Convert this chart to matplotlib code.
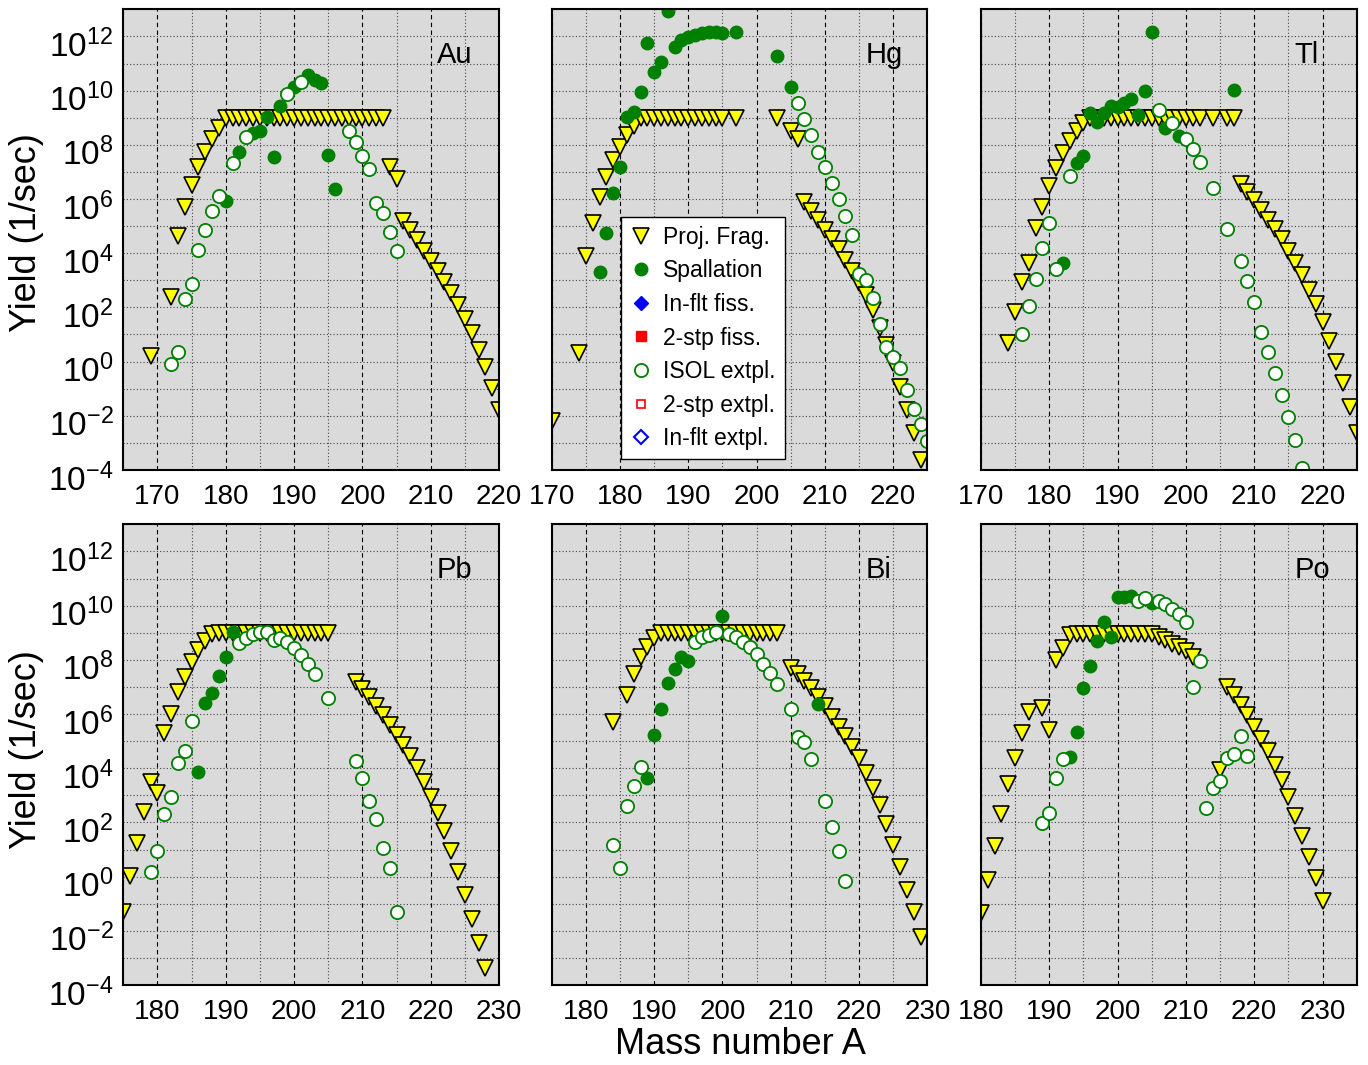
import numpy as np
import matplotlib
matplotlib.use("Agg")
import matplotlib.pyplot as plt
from matplotlib.ticker import MultipleLocator, LogLocator, FuncFormatter, NullLocator
from matplotlib.transforms import ScaledTranslation

# ---- data (mass number A, log10 of yield in 1/sec) ----
# Au
au_pf_a = [169, 172, 173, 174, 175, 176, 177, 178, 179,
           180, 181, 182, 183, 184, 185, 186, 187, 188, 189, 190, 191,
           192, 193, 194, 195, 196, 197, 198, 199, 200, 201, 202, 203,
           204, 205, 206, 207, 208, 209, 210, 211, 212, 213, 214, 215,
           216, 217, 218, 219, 220]
au_pf_y = [0.21, 2.4, 4.63, 5.69, 6.5, 7.19, 7.72, 8.21, 8.61,
           9.0, 9.0, 9.0, 9.0, 9.0, 9.0, 9.0, 9.0, 9.0, 9.0, 9.0, 9.0,
           9.0, 9.0, 9.0, 9.0, 9.0, 9.0, 9.0, 9.0, 9.0, 9.0, 9.0, 9.0,
           7.19, 6.74, 5.2, 4.86, 4.49, 4.09, 3.72, 3.36, 2.95, 2.52, 2.09, 1.56,
           1.04, 0.43, -0.21, -0.99, -1.79]
au_sp_a = [180, 182, 184, 185, 186, 187, 188, 190, 192, 193, 194, 195, 196]
au_sp_y = [5.94, 7.75, 8.42, 8.52, 9.04, 7.56, 9.43, 10.15, 10.56, 10.39, 10.27, 7.62, 6.36]
au_is_a = [172, 173, 174, 175, 176, 177, 178, 179, 181, 183, 189, 191,
           198, 199, 200, 201, 202, 203, 204, 205]
au_is_y = [-0.09, 0.37, 2.31, 2.86, 4.12, 4.86, 5.56, 6.11, 7.34, 8.3, 9.87, 10.32,
           8.51, 8.12, 7.6, 7.09, 5.86, 5.5, 4.79, 4.08]

# Hg
hg_pf_a = [170, 174, 175, 176, 177, 178, 179, 180, 181, 182,
           183, 184, 185, 186, 187, 188, 189, 190, 191, 192, 193, 194, 195, 197,
           203, 205, 206, 207, 208, 209, 210, 211, 212, 213, 214, 215, 216,
           217, 218, 219, 220, 221, 222, 223, 224]
hg_pf_y = [-2.18, 0.33, 3.9, 5.13, 6.06, 6.82, 7.44, 7.93, 8.36, 8.69,
           8.98, 8.98, 8.98, 8.98, 8.98, 8.98, 8.98, 8.98, 8.98, 8.98, 8.98, 8.98, 8.98, 8.98,
           8.98, 8.52, 8.2, 5.9, 5.57, 5.22, 4.86, 4.51, 4.14, 3.75, 3.36, 2.89, 2.46,
           1.9, 1.23, 0.61, -0.06, -0.92, -1.79, -2.65, -3.63]
hg_sp_a = [177, 178, 179, 180, 181, 182, 183, 184, 185, 186, 187, 188, 189,
           190, 191, 192, 193, 194, 195, 197, 203, 205]
hg_sp_y = [3.32, 4.73, 6.21, 7.19, 9.04, 9.22, 9.96, 11.74, 10.7, 11.07, 12.95, 11.62, 11.87,
           11.99, 12.05, 12.11, 12.15, 12.17, 12.11, 12.17, 11.28, 10.12]
hg_is_a = [206, 207, 208, 209, 210, 211, 212, 213, 214, 215,
           216, 217, 218, 219, 220, 221, 222, 223, 224, 225]
hg_is_y = [9.53, 8.95, 8.36, 7.75, 7.19, 6.6, 6.0, 5.37, 4.67, 3.23,
           3.01, 2.33, 1.39, 0.53, 0.16, -0.25, -1.05, -1.76, -2.3, -2.92]

# Tl
tl_pf_a = [174, 175, 176, 177, 178, 179, 180, 181, 182, 183, 184, 185,
           186, 187, 188, 189, 190, 191, 192, 193, 194, 195, 196, 197, 198, 199,
           200, 201, 202, 204, 206, 207,
           208, 209, 210, 211, 212, 213, 214, 215, 216, 217, 218, 219,
           220, 221, 222, 223, 224, 225]
tl_pf_y = [0.67, 1.84, 2.95, 3.65, 4.92, 5.72, 6.48, 7.13, 7.69, 8.15, 8.52, 8.82,
           8.98, 8.98, 8.98, 8.98, 8.98, 8.98, 8.98, 8.98, 8.98, 8.98, 8.98, 8.98, 8.98, 8.98,
           8.98, 8.98, 8.98, 8.98, 8.98, 8.98,
           6.55, 6.27, 5.96, 5.59, 5.22, 4.88, 4.51, 4.09, 3.65, 3.2, 2.64, 2.13,
           1.47, 0.77, 0.0, -0.8, -1.69, -2.65]
tl_sp_a = [182, 184, 185, 186, 187, 188, 189, 190, 191, 192, 193, 194, 195, 197, 199, 207]
tl_sp_y = [3.63, 7.32, 7.59, 9.19, 8.85, 9.16, 9.43, 9.41, 9.53, 9.68, 9.1, 10.0, 12.15,
           8.63, 8.32, 10.02]
tl_is_a = [176, 177, 178, 179, 180, 181, 183, 196, 198, 200, 201, 202, 204, 206,
           208, 209, 210, 211, 212, 213, 214, 215, 216, 217]
tl_is_y = [1.02, 2.05, 3.04, 4.2, 5.1, 3.42, 6.86, 9.28, 8.82, 8.2, 7.83, 7.38, 6.42, 4.88,
           3.72, 2.97, 2.19, 1.1, 0.37, -0.43, -1.23, -2.03, -2.89, -3.94]

# Pb
pb_pf_a = [175, 176, 177, 178, 179, 180, 181, 182, 183, 184, 185, 186, 187, 188,
           189, 190, 191, 192, 193, 194, 195, 196, 197, 198, 199, 200, 201, 202,
           203, 204, 205,
           209, 210, 211, 212, 213, 214, 215, 216, 217, 218, 219, 220, 221, 222,
           223, 224, 225, 226, 227, 228]
pb_pf_y = [-1.29, 0.03, 1.23, 2.4, 3.5, 3.1, 5.29, 5.99, 6.8, 7.38, 7.93, 8.36, 8.69, 8.94,
           8.98, 8.98, 8.98, 8.98, 8.98, 8.98, 8.98, 8.98, 8.98, 8.98, 8.98, 8.98, 8.98, 8.98,
           8.98, 8.98, 8.98,
           7.19, 6.92, 6.64, 6.31, 5.96, 5.59, 5.22, 4.86, 4.46, 4.02, 3.5, 2.95, 2.36, 1.68,
           0.94, 0.16, -0.68, -1.58, -2.46, -3.38]
pb_sp_a = [186, 187, 188, 189, 190, 191]
pb_sp_y = [3.87, 6.42, 6.76, 7.4, 8.12, 9.01]
pb_is_a = [179, 180, 181, 182, 183, 184, 185, 192, 193, 194, 195, 196, 197, 198,
           199, 200, 201, 202, 203, 205, 209, 210, 211, 212, 213, 214, 215]
pb_is_y = [0.16, 0.96, 2.31, 2.95, 4.18, 4.65, 5.75, 8.63, 8.79, 8.94, 9.01, 9.01, 8.73, 8.82,
           8.65, 8.45, 8.18, 7.85, 7.48, 6.6, 4.27, 3.63, 2.79, 2.11, 1.07, 0.3, -1.29]

# Bi
bi_pf_a = [184, 186, 187, 188, 189, 190,
           191, 192, 193, 194, 195, 196, 197, 198, 199, 200, 201, 202, 203, 204,
           205, 206, 207, 208,
           210, 211, 212, 213, 214, 215, 216, 217, 218, 219, 220, 221, 222, 223,
           224, 225, 226, 227, 228, 229]
bi_pf_y = [5.72, 6.7, 7.46, 8.12, 8.48, 8.79,
           8.98, 8.98, 8.98, 8.98, 8.98, 8.98, 8.98, 8.98, 8.98, 8.98, 8.98, 8.98, 8.98, 8.98,
           8.98, 8.98, 8.98, 8.98,
           7.69, 7.46, 7.23, 6.95, 6.64, 6.3, 5.9, 5.53, 5.19, 4.79, 4.36, 3.84, 3.26, 2.64,
           1.93, 1.17, 0.37, -0.49, -1.29, -2.22]
bi_sp_a = [189, 190, 191, 192, 193, 194, 195, 200, 214]
bi_sp_y = [3.63, 5.22, 6.17, 7.16, 7.66, 8.12, 7.97, 9.63, 6.36]
bi_is_a = [184, 185, 186, 187, 188, 196, 197, 198, 199, 201, 202, 203, 204, 205,
           206, 207, 208, 210, 211, 212, 213, 215, 216, 217, 218]
bi_is_y = [1.17, 0.33, 2.6, 3.36, 4.03, 8.67, 8.85, 8.91, 9.01, 8.95, 8.83, 8.67, 8.46, 8.2,
           7.85, 7.53, 7.11, 6.18, 5.16, 4.98, 4.34, 2.8, 1.82, 0.94, -0.16]

# Po
po_pf_a = [180, 181, 182, 183, 184, 185, 186, 187, 189, 190, 191, 192, 193,
           194, 195, 196, 197, 198, 199, 200, 201, 202, 203, 204, 205,
           206, 207, 208, 209, 210, 211, 215,
           216, 217, 218, 219, 220, 221, 222, 223, 224, 225, 226, 227, 228, 229, 230]
po_pf_y = [-1.36, -0.13, 1.13, 2.3, 3.4, 4.39, 5.29, 6.09, 6.21, 5.41, 7.99, 8.45, 8.92,
           8.96, 8.96, 8.96, 8.96, 8.96, 8.96, 8.96, 8.96, 8.96, 8.96, 8.96, 8.96,
           8.85, 8.73, 8.6, 8.48, 8.32, 8.12, 3.93,
           7.01, 6.7, 6.33, 5.96, 5.51, 5.08, 4.63, 4.12, 3.56, 2.95, 2.25, 1.51, 0.74, -0.06, -0.9]
po_sp_a = [193, 194, 195, 196, 197, 198, 199, 200, 201, 202, 205]
po_sp_y = [4.4, 5.32, 6.95, 7.77, 8.71, 9.41, 8.83, 10.33, 10.33, 10.35, 10.08]
po_is_a = [189, 190, 191, 192, 203, 204, 206, 207, 208, 209, 210, 211, 212,
           213, 214, 215, 216, 217, 218, 219]
po_is_y = [1.97, 2.36, 3.65, 4.34, 10.18, 10.29, 10.18, 10.05, 9.87, 9.68, 9.41, 6.98, 7.97,
           2.52, 3.26, 3.53, 4.36, 4.51, 5.2, 4.46]

# series with no points in these panels (legend only)
inflight_fiss_a, inflight_fiss_y = [], []
twostep_fiss_a, twostep_fiss_y = [], []
twostep_extpl_a, twostep_extpl_y = [], []
inflight_extpl_a, inflight_extpl_y = [], []

elements = ["Au", "Hg", "Tl", "Pb", "Bi", "Po"]
x_ranges = [(165, 220), (170, 225), (170, 225), (175, 230), (175, 230), (180, 235)]
panel_pf = [(au_pf_a, au_pf_y), (hg_pf_a, hg_pf_y), (tl_pf_a, tl_pf_y),
            (pb_pf_a, pb_pf_y), (bi_pf_a, bi_pf_y), (po_pf_a, po_pf_y)]
panel_sp = [(au_sp_a, au_sp_y), (hg_sp_a, hg_sp_y), (tl_sp_a, tl_sp_y),
            (pb_sp_a, pb_sp_y), (bi_sp_a, bi_sp_y), (po_sp_a, po_sp_y)]
panel_is = [(au_is_a, au_is_y), (hg_is_a, hg_is_y), (tl_is_a, tl_is_y),
            (pb_is_a, pb_is_y), (bi_is_a, bi_is_y), (po_is_a, po_is_y)]

# ---- fonts ----
plt.rcParams['font.family'] = ['Liberation Sans', 'DejaVu Sans']
plt.rcParams['mathtext.fontset'] = 'custom'
plt.rcParams['mathtext.rm'] = 'Liberation Sans'
plt.rcParams['mathtext.default'] = 'regular'

W, H = 1368, 1065
fig = plt.figure(figsize=(W / 100, H / 100), dpi=100)
col_left = [123.3, 551.7, 981.0]
row_top = [9.3, 524.3]
aw, ah = 375.7, 460.7
# y tick labels sit a bit under their grid line in the original
ylab_shift = ScaledTranslation(0, -5 / 72, fig.dpi_scale_trans)


def ylab(v, pos):
    e = int(round(np.log10(v)))
    if e % 2:
        return ""
    return r"$10^{%d}$" % e


axes = []
for i, el in enumerate(elements):
    r, c = divmod(i, 3)
    ax = fig.add_axes([col_left[c] / W, 1 - (row_top[r] + ah) / H, aw / W, ah / H])
    ax.set_facecolor('#dadada')
    ax.set_yscale('log')
    ax.set_ylim(1e-4, 1e13)
    ax.set_xlim(*x_ranges[i])
    ax.xaxis.set_major_locator(MultipleLocator(10))
    ax.xaxis.set_minor_locator(MultipleLocator(5))
    ax.yaxis.set_major_locator(LogLocator(base=10, numticks=40))
    ax.yaxis.set_minor_locator(NullLocator())
    ax.yaxis.set_major_formatter(FuncFormatter(ylab))
    ax.tick_params(which='both', length=0)
    ax.tick_params(axis='y', labelsize=24, pad=7, labelleft=(c == 0))
    ax.tick_params(axis='x', labelsize=20, pad=10)
    for t in ax.yaxis.get_major_ticks():
        t.label1.set_transform(t.label1.get_transform() + ylab_shift)
    ax.set_axisbelow(True)
    ax.grid(which='major', axis='x', color='black', lw=0.8, ls=(0, (4, 3)))
    ax.grid(which='minor', axis='x', color='#444444', lw=0.8, ls=(0, (1, 2)))
    ax.grid(which='major', axis='y', color='#444444', lw=0.8, ls=(0, (1, 2)))
    for s in ax.spines.values():
        s.set_linewidth(1.5)

    pa, py = panel_pf[i]
    ax.plot(pa, 10.0 ** np.array(py), ls='none', marker='v', ms=11, mfc='yellow',
            mec='black', mew=1.2, label='Proj. Frag.')
    sa, sy = panel_sp[i]
    ax.plot(sa, 10.0 ** np.array(sy), ls='none', marker='o', ms=9, mfc='green',
            mec='green', label='Spallation')
    ax.plot(inflight_fiss_a, inflight_fiss_y, ls='none', marker='D', ms=7, mfc='blue',
            mec='blue', label='In-flt fiss.')
    ax.plot(twostep_fiss_a, twostep_fiss_y, ls='none', marker='s', ms=7, mfc='red',
            mec='red', label='2-stp fiss.')
    ia, iy = panel_is[i]
    ax.plot(ia, 10.0 ** np.array(iy), ls='none', marker='o', ms=9.5, mfc='white',
            mec='green', mew=1.3, label='ISOL extpl.')
    ax.plot(twostep_extpl_a, twostep_extpl_y, ls='none', marker='s', ms=6, mfc='white',
            mec='red', mew=1.2, label='2-stp extpl.')
    ax.plot(inflight_extpl_a, inflight_extpl_y, ls='none', marker='D', ms=7, mfc='white',
            mec='blue', mew=1.5, label='In-flt extpl.')

    ax.text(0.835, 0.883, el, transform=ax.transAxes, fontsize=21, ha='left', va='baseline')
    axes.append(ax)

leg = axes[1].legend(loc='lower left', bbox_to_anchor=(0.1835, 0.0232), borderaxespad=0,
                     fontsize=16.5, handlelength=1.0, handletextpad=0.45, borderpad=0.4,
                     labelspacing=0.46, fancybox=False, framealpha=1, edgecolor='black',
                     facecolor='white')
leg.get_frame().set_linewidth(1.0)

for r, yc_px in enumerate([233, 750]):
    fig.text(27 / W, 1 - yc_px / H, 'Yield (1/sec)', rotation=90, ha='center', va='center',
             fontsize=26)
fig.text(740 / W, 1 - 1045 / H, 'Mass number A', ha='center', va='center', fontsize=26)

fig.savefig('out.png', dpi=100)
